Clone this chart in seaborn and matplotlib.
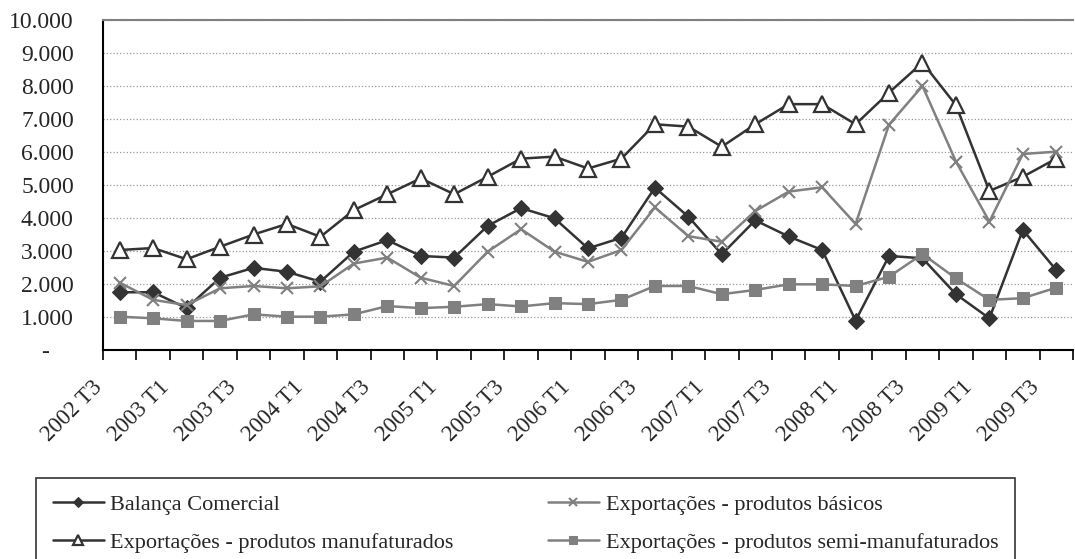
import numpy as np
import pandas as pd
import matplotlib
matplotlib.use("Agg")
import matplotlib.pyplot as plt
import matplotlib.transforms as mtransforms
import seaborn as sns
from matplotlib.ticker import FuncFormatter

# Quarterly data, 2002 T3 .. 2009 T3
quarters = [f"{y} T{q}" for y in range(2002, 2010) for q in range(1, 5)][2:31]

balanca = [1750, 1750, 1270, 2190, 2490, 2370, 2070, 2980, 3330, 2850,
           2800, 3760, 4300, 3990, 3080, 3400, 4920, 4040, 2900, 3930,
           3440, 3030, 890, 2850, 2780, 1690, 960, 3640, 2420]
basicos = [2040, 1520, 1360, 1870, 1940, 1870, 1930, 2620, 2800, 2190,
           1940, 2980, 3660, 2980, 2670, 3030, 4320, 3450, 3280, 4210,
           4800, 4930, 3820, 6830, 8000, 5710, 3890, 5940, 6010]
manufaturados = [3030, 3090, 2750, 3130, 3500, 3820, 3430, 4240, 4720, 5200,
                 4720, 5250, 5800, 5860, 5500, 5800, 6840, 6770, 6160, 6840,
                 7450, 7450, 6840, 7800, 8710, 7420, 4820, 5250, 5800]
semi = [1010, 960, 880, 880, 1080, 1010, 1010, 1080, 1330, 1270,
        1310, 1390, 1320, 1420, 1390, 1520, 1940, 1940, 1690, 1820,
        1990, 1990, 1940, 2220, 2910, 2170, 1520, 1570, 1890]

series_names = ["Balança Comercial",
                "Exportações - produtos manufaturados",
                "Exportações - produtos básicos",
                "Exportações - produtos semi-manufaturados"]

df = pd.DataFrame({"pos": np.arange(len(quarters)),
                   series_names[0]: balanca,
                   series_names[1]: manufaturados,
                   series_names[2]: basicos,
                   series_names[3]: semi})

sns.set_theme(style="white")
plt.rcParams["font.family"] = ["Liberation Serif", "DejaVu Serif"]

fig = plt.figure(figsize=(10.75, 5.59), dpi=100)
ax = fig.add_axes([103 / 1075, 1 - 350 / 559, 970 / 1075, 330 / 559])

dark = "#333333"
gray = "#808080"
styles = {
    series_names[0]: dict(color=dark, marker="D", markersize=8, markerfacecolor=dark, markeredgecolor=dark),
    series_names[1]: dict(color=dark, marker="^", markersize=11, markerfacecolor="white", markeredgecolor=dark, markeredgewidth=1.6),
    series_names[2]: dict(color=gray, marker="x", markersize=8, markeredgecolor=gray, markeredgewidth=1.5),
    series_names[3]: dict(color=gray, marker="s", markersize=9, markerfacecolor=gray, markeredgecolor=gray),
}

for name in series_names:
    sns.lineplot(data=df, x="pos", y=name, ax=ax, label=name, linewidth=1.8, **styles[name])

ax.set_xlim(-0.5, len(quarters) - 0.5)
ax.set_ylim(0, 10000)
ax.set_xlabel("")
ax.set_ylabel("")

ax.set_yticks(np.arange(0, 10001, 1000))
ax.yaxis.set_major_formatter(FuncFormatter(lambda v, p: "-    " if v == 0 else f"{int(v):,}".replace(",", ".")))
ax.tick_params(axis="y", length=0, pad=21, labelsize=17)
ax.grid(axis="y", linestyle=":", color="#999999", linewidth=0.9)

ax.set_xticks(np.arange(-0.5, len(quarters), 1))
ax.set_xticklabels([])
ax.tick_params(axis="x", which="major", direction="out", length=7, width=1.2, color="black", bottom=True)
ax.set_xticks(np.arange(0, len(quarters), 2), minor=True)
ax.set_xticklabels(quarters[::2], minor=True, rotation=45, ha="right", va="top", rotation_mode="anchor", fontsize=16.5)
ax.tick_params(axis="x", which="minor", length=0, pad=19)
shift = mtransforms.ScaledTranslation(-0.28, 0, fig.dpi_scale_trans)
for lbl in ax.get_xticklabels(minor=True):
    lbl.set_transform(lbl.get_transform() + shift)

for s in ["left", "bottom"]:
    ax.spines[s].set_color("black")
    ax.spines[s].set_linewidth(1.5)
ax.spines["right"].set_visible(False)
ax.spines["top"].set_color("#808080")
ax.spines["top"].set_linewidth(1.5)

ax.get_legend().remove()
handles, labels = ax.get_legend_handles_labels()
leg = fig.legend(handles, labels, loc="upper left", ncol=2, mode="expand",
                 bbox_to_anchor=(36 / 1075, -0.02, 979 / 1075, 1 - 478 / 559 + 0.02),
                 frameon=True, fancybox=False, edgecolor="black", fontsize=16,
                 handlelength=2.3, handletextpad=0.3, labelspacing=0.78, borderpad=0.75,
                 borderaxespad=0)
leg.get_frame().set_linewidth(1.2)
for h in leg.legend_handles:
    h.set_markersize(h.get_markersize() * 0.7)

fig.savefig("out.png", dpi=100)
